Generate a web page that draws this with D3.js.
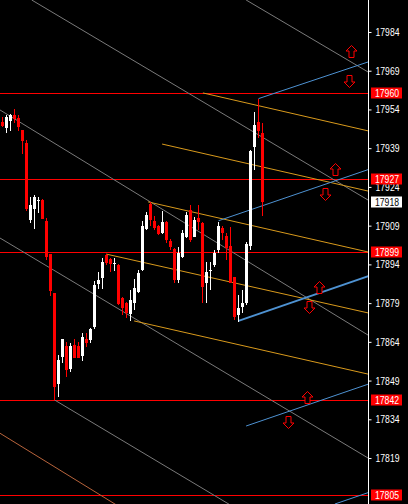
<!DOCTYPE html>
<html><head><meta charset="utf-8">
<script src="https://cdn.jsdelivr.net/npm/d3@7"></script>
<style>html,body{margin:0;padding:0;background:#000;overflow:hidden}</style>
</head><body><svg id="c" width="408" height="504"></svg>
<script>
// ---- data ----
const candleOpen = [17949.1,17946.9,17949.6,17951.9,17950.7,17946.0,17941.1,17911.3,17915.6,17918.7,
17918.8,17910.9,17898.0,17883.0,17847.7,17858.0,17862.5,17853.4,17862.8,17862.4,
17858.5,17865.2,17864.7,17869.6,17886.4,17888.7,17897.5,17896.0,17894.3,17893.8,
17880.9,17878.9,17874.8,17878.9,17883.3,17891.8,17907.7,17917.4,17910.8,17908.7,
17906.0,17910.3,17903.2,17900.1,17888.0,17897.0,17904.7,17915.1,17904.7,17911.8,
17909.9,17886.7,17891.7,17893.8,17899.6,17908.0,17905.0,17901.1,17889.2,17874.4,
17877.6,17878.9,17901.1,17939.6,17949.3,17945.0];
const candleHigh = [17951.2,17951.9,17952.2,17954.1,17951.9,17946.0,17942.2,17920.2,17920.8,17920.1,
17919.2,17912.0,17898.0,17883.0,17858.9,17865.2,17864.1,17863.4,17865.0,17863.9,
17867.3,17867.3,17869.4,17887.4,17890.9,17896.3,17898.0,17896.4,17896.4,17894.1,
17881.5,17879.5,17884.1,17888.2,17891.8,17910.8,17914.3,17918.2,17912.7,17909.3,
17914.7,17910.8,17903.8,17900.3,17900.8,17907.3,17914.4,17917.0,17912.4,17917.0,
17910.5,17895.0,17895.0,17899.6,17910.5,17908.9,17906.0,17908.6,17889.2,17882.1,
17884.1,17902.7,17938.3,17953.0,17957.9,17948.9];
const candleLow = [17947.2,17944.8,17945.7,17948.9,17945.7,17936.8,17914.8,17910.1,17907.7,17913.9,
17911.4,17895.7,17881.9,17841.5,17842.8,17855.8,17850.5,17852.3,17857.6,17857.7,
17856.6,17862.1,17863.7,17868.9,17884.6,17884.6,17893.9,17891.0,17891.4,17878.3,
17874.4,17873.1,17872.1,17876.3,17882.9,17891.4,17907.3,17908.9,17907.5,17905.4,
17905.8,17902.3,17899.6,17886.7,17886.7,17896.5,17904.1,17902.8,17904.6,17907.3,
17878.9,17878.9,17884.1,17893.1,17898.3,17903.4,17895.7,17886.7,17872.5,17871.8,
17875.1,17878.3,17899.6,17930.5,17942.8,17912.7];
const candleClose = [17947.6,17951.2,17951.9,17950.3,17947.2,17941.9,17915.3,17917.0,17920.0,17918.9,
17911.7,17896.7,17883.8,17846.6,17857.0,17865.2,17853.1,17862.4,17857.9,17857.9,
17865.8,17863.6,17869.0,17886.1,17888.1,17894.9,17894.5,17894.1,17894.4,17878.7,
17877.0,17875.1,17880.2,17884.7,17890.8,17908.9,17913.1,17911.2,17907.9,17905.9,
17910.5,17903.6,17900.8,17888.0,17898.3,17906.0,17913.1,17903.4,17911.2,17910.5,
17885.4,17891.2,17891.9,17898.5,17908.9,17906.0,17900.2,17886.7,17873.7,17877.0,
17878.9,17901.9,17937.9,17948.0,17945.8,17918.2];

const tickValues = [17984,17969,17954,17939,17924,17909,17894,17879,17864,17849,17834,17819];
const levelPrices = [17960.3,17927.0,17898.7,17841.6,17804.6];
const levelLabels = ["17960","17927","17899","17842","17805"];
const currentPrice = 17918.2;
const currentLabel = "17918";

// trend lines: [barIndex1, price1, barIndex2, price2]
const grayLines = [[7.3,17996.4,91.4,17918.9],[60.9,17996.4,91.4,17968.5],[-0.625,17953.8,91.4,17866.6],
  [-0.625,17904.2,91.4,17819.0],[13,17841.5,56.55,17801.2]];
const brownLines = [[-0.625,17828.6,28.1,17801.2]];
const orangeLines = [[50.1,17960.4,91.4,17945.7],[39.9,17940.6,91.4,17922.4],[36.4,17918.2,91.4,17898.8],
  [25.9,17898.0,91.4,17875.2],[32.9,17872.1,91.4,17851.5]];
const blueLines = [[64,17958.2,91.4,17972.4],[54,17910.9,91.4,17930.7],[59,17872.1,91.4,17889.4],
  [60.9,17831.4,91.4,17847.6],[83.1,17801.2,91.4,17805.6]];
const blueWidths = [1,1,2,1,1];
const upArrows = [[87.05,17976.7],[83.0,17931.1],[79.05,17885.2],[76.05,17842.6]];
const downArrows = [[86.55,17965.1],[80.5,17921.3],[76.55,17877.5],[71.45,17832.8]];

// ---- drawing ----
const W = 408, H = 504, plotW = 368;
const svg = d3.select("#c");
svg.append("rect").attr("width",W).attr("height",H).attr("fill","#000");
const x = d3.scaleLinear().domain([0,65]).range([2.5,262.5]);
const y = d3.scaleLinear().domain([17801.2,17996.39]).range([H,0]);

svg.append("clipPath").attr("id","clip").append("rect").attr("width",plotW).attr("height",H);
const g = svg.append("g").attr("clip-path","url(#clip)");

// horizontal levels
g.selectAll(".lvl").data(levelPrices).join("line")
  .attr("x1",0).attr("x2",plotW)
  .attr("y1",d=>Math.round(y(d))+0.5).attr("y2",d=>Math.round(y(d))+0.5)
  .attr("stroke","#ff0000").attr("stroke-width",1);

function drawLines(arr, color, widths){
  const xEnd = x.invert(plotW+2);
  g.selectAll(null).data(arr).join("line")
    .attr("x1",d=>x(d[0])).attr("y1",d=>y(d[1]))
    .attr("x2",x(xEnd))
    .attr("y2",d=>{const s=(d[3]-d[1])/(d[2]-d[0]); return y(d[1]+s*(xEnd-d[0]));})
    .attr("stroke",color).attr("stroke-width",(d,i)=>widths?widths[i]:1);
}
drawLines(grayLines,"#7a7a7a");
drawLines(brownLines,"#b8643c");
drawLines(orangeLines,"#d99a1c");
drawLines(blueLines,"#4e92d2",blueWidths);

// candles
const idx = d3.range(candleOpen.length);
const cg = g.append("g").attr("shape-rendering","crispEdges");
cg.selectAll(".wick").data(idx).join("rect")
  .attr("x",i=>Math.round(x(i)-0.5)).attr("width",1)
  .attr("y",i=>Math.round(y(candleHigh[i])))
  .attr("height",i=>Math.max(1,Math.round(y(candleLow[i]))-Math.round(y(candleHigh[i]))))
  .attr("fill",i=>candleClose[i]>=candleOpen[i]?"#fff":"#ff0000");
cg.selectAll(".body").data(idx).join("rect")
  .attr("x",i=>Math.round(x(i)-1.5)).attr("width",3)
  .attr("y",i=>Math.round(y(Math.max(candleOpen[i],candleClose[i]))))
  .attr("height",i=>Math.max(1,Math.round(y(Math.min(candleOpen[i],candleClose[i])))-Math.round(y(Math.max(candleOpen[i],candleClose[i])))))
  .attr("fill",i=>candleClose[i]>=candleOpen[i]?"#fff":"#ff0000");

// arrows
const upPath = "M0,-6L5.5,-0.5L2.5,-0.5L2.5,6L-2.5,6L-2.5,-0.5L-5.5,-0.5Z";
const downPath = "M0,6L5.5,0.5L2.5,0.5L2.5,-6L-2.5,-6L-2.5,0.5L-5.5,0.5Z";
g.selectAll(".up").data(upArrows).join("path")
  .attr("d",upPath).attr("transform",d=>`translate(${Math.round(x(d[0]))+0.5},${Math.round(y(d[1]))+0.5})`)
  .attr("fill","#000").attr("stroke","#ff0000").attr("stroke-width",1);
g.selectAll(".dn").data(downArrows).join("path")
  .attr("d",downPath).attr("transform",d=>`translate(${Math.round(x(d[0]))+0.5},${Math.round(y(d[1]))+0.5})`)
  .attr("fill","#000").attr("stroke","#ff0000").attr("stroke-width",1);

// right axis
const font = "'Liberation Sans', Arial, sans-serif";
const ax = svg.append("g").attr("transform",`translate(${plotW+0.5},0)`)
  .call(d3.axisRight(y).tickValues(tickValues).tickFormat(d3.format("d")).tickSize(3).tickPadding(4));
ax.select(".domain").attr("stroke","#fff").attr("d",`M0,0V${H}`);
ax.selectAll(".tick line").attr("stroke","#fff");
ax.selectAll(".tick text").attr("fill","#fff").style("font-family",font).style("font-size","11px")
  .attr("textLength",24).attr("lengthAdjust","spacingAndGlyphs");

// level labels
function label(price, text, bg, fg){
  const cy = Math.round(y(price));
  svg.append("rect").attr("x",371).attr("y",cy-5.5).attr("width",31).attr("height",11).attr("fill",bg);
  svg.append("text").attr("x",375).attr("y",cy).attr("dy","0.36em").text(text)
    .attr("fill",fg).style("font-family",font).style("font-size","11px")
    .attr("textLength",24).attr("lengthAdjust","spacingAndGlyphs");
}
levelPrices.forEach((p,i)=>label(p,levelLabels[i],"#ff0000","#fff"));
label(currentPrice,currentLabel,"#fff","#000");
</script></body></html>
